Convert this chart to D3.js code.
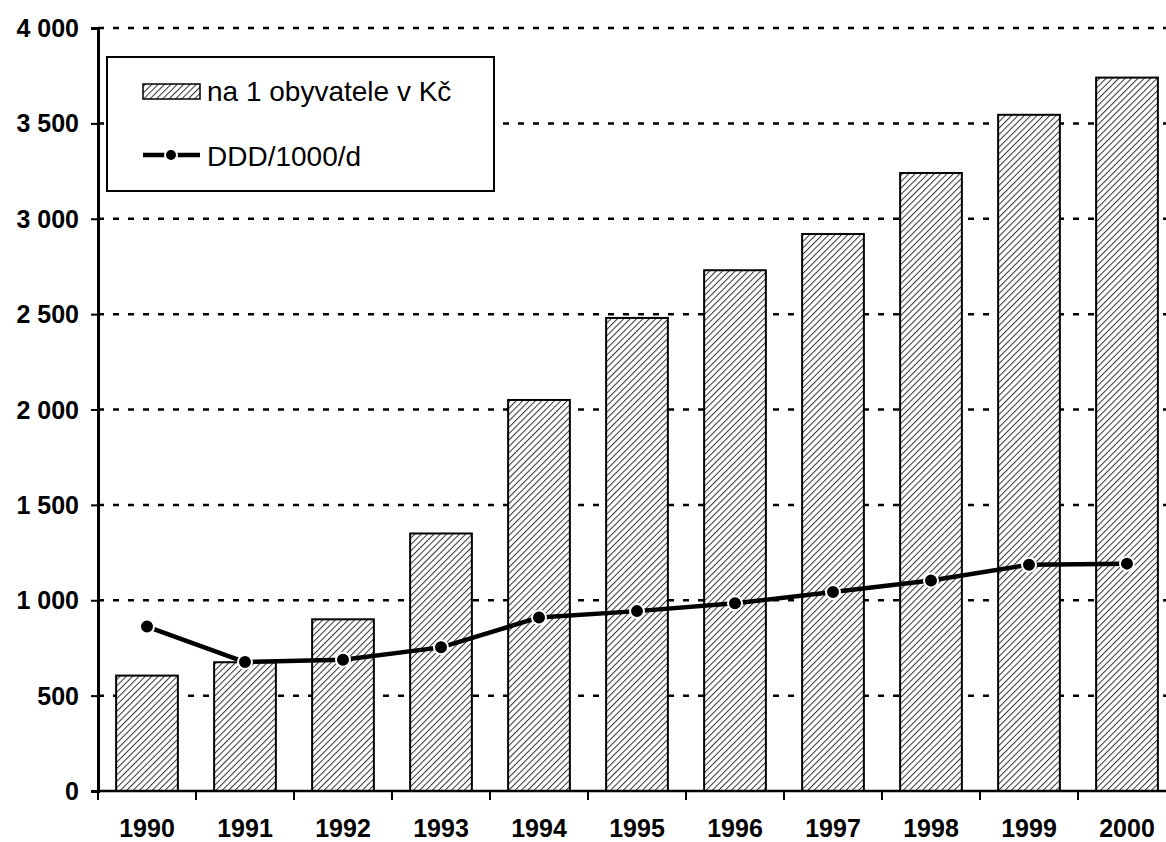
<!DOCTYPE html>
<html lang="cs">
<head>
<meta charset="UTF-8">
<title>Náklady a spotřeba</title>
<style>
  body { margin: 0; background: #fff; }
  svg { display: block; }
</style>
</head>
<body>
<div id="chart"></div>
<script src="https://cdn.jsdelivr.net/npm/d3@7"></script>
<script>
const years = ["1990", "1991", "1992", "1993", "1994", "1995", "1996", "1997", "1998", "1999", "2000"];
const perCapita = [605, 675, 900, 1350, 2050, 2480, 2730, 2920, 3240, 3545, 3740];
const ddd = [862, 676, 688, 753, 910, 943, 984, 1043, 1104, 1186, 1192];
const yTicks = [0, 500, 1000, 1500, 2000, 2500, 3000, 3500, 4000];
const legendLabels = ["na 1 obyvatele v Kč", "DDD/1000/d"];

const W = 1166, H = 842;
const plotLeft = 98, plotTop = 28, plotBottom = 791;
const font = "Liberation Sans, Arial, sans-serif";

const svg = d3.select("#chart").append("svg")
    .attr("width", W).attr("height", H);

const defs = svg.append("defs");
const pat = defs.append("pattern")
    .attr("id", "hatch")
    .attr("patternUnits", "userSpaceOnUse")
    .attr("width", 4.5).attr("height", 4.5)
    .attr("patternTransform", "rotate(45)");
pat.append("rect").attr("width", 4.5).attr("height", 4.5).attr("fill", "#fff");
pat.append("line")
    .attr("x1", 0).attr("y1", 0).attr("x2", 0).attr("y2", 4.5)
    .attr("stroke", "#333").attr("stroke-width", 2);

const x = d3.scaleBand().domain(years).range([plotLeft, plotLeft + 98 * 11]).paddingInner(0.37).paddingOuter(0.185);
const y = d3.scaleLinear().domain([0, 4000]).range([plotBottom, plotTop]);

// gridlines
svg.append("g").selectAll("line")
    .data(yTicks.filter(d => d > 0))
    .join("line")
    .attr("x1", plotLeft).attr("x2", W)
    .attr("y1", d => y(d)).attr("y2", d => y(d))
    .attr("stroke", "#000").attr("stroke-width", 2.5)
    .attr("stroke-dasharray", "6,9");

// bars
svg.append("g").selectAll("rect")
    .data(perCapita)
    .join("rect")
    .attr("x", (d, i) => x(years[i]))
    .attr("y", d => y(d))
    .attr("width", x.bandwidth())
    .attr("height", d => plotBottom - y(d))
    .attr("fill", "url(#hatch)")
    .attr("stroke", "#000").attr("stroke-width", 2);

// y axis
const yAxis = svg.append("g")
    .attr("transform", `translate(${plotLeft},0)`)
    .call(d3.axisLeft(y).tickValues(yTicks).tickSize(7).tickPadding(12)
        .tickFormat(d => d3.format(",")(d).replace(",", " ")));
yAxis.select(".domain").attr("stroke-width", 3);
yAxis.selectAll(".tick line").attr("stroke-width", 2);
yAxis.selectAll("text")
    .attr("font-family", font)
    .attr("font-weight", "bold").attr("font-size", 25).attr("fill", "#000")
    .attr("dy", "0.34em");

// x axis
const xb = d3.scaleLinear().domain([0, 11]).range([plotLeft, plotLeft + 98 * 11]);
const xAxis = svg.append("g").attr("transform", `translate(0,${plotBottom})`);
xAxis.append("line")
    .attr("x1", plotLeft).attr("x2", W)
    .attr("stroke", "#000").attr("stroke-width", 2.5);
xAxis.selectAll(".tk")
    .data(d3.range(0, 12))
    .join("line")
    .attr("x1", d => xb(d)).attr("x2", d => xb(d))
    .attr("y1", 0).attr("y2", 9)
    .attr("stroke", "#000").attr("stroke-width", 2);
xAxis.selectAll("text")
    .data(years)
    .join("text")
    .attr("x", d => x(d) + x.bandwidth() / 2)
    .attr("y", 46)
    .attr("text-anchor", "middle")
    .attr("font-family", font)
    .attr("font-weight", "bold").attr("font-size", 25)
    .text(d => d);

// line series
const cx = (d, i) => x(years[i]) + x.bandwidth() / 2;
svg.append("path")
    .datum(ddd)
    .attr("d", d3.line().x(cx).y(d => y(d)))
    .attr("fill", "none")
    .attr("stroke", "#000").attr("stroke-width", 4.5)
    .attr("stroke-linejoin", "round");
svg.append("g").selectAll("circle")
    .data(ddd)
    .join("circle")
    .attr("cx", cx).attr("cy", d => y(d))
    .attr("r", 7)
    .attr("fill", "#000")
    .attr("stroke", "#fff").attr("stroke-width", 2);

// legend
const lg = svg.append("g");
lg.append("rect")
    .attr("x", 107).attr("y", 57).attr("width", 387).attr("height", 134)
    .attr("fill", "#fff").attr("stroke", "#000").attr("stroke-width", 2);
lg.append("rect")
    .attr("x", 143).attr("y", 84).attr("width", 57).attr("height", 15)
    .attr("fill", "url(#hatch)").attr("stroke", "#000").attr("stroke-width", 1.5);
lg.append("line")
    .attr("x1", 143).attr("x2", 200).attr("y1", 155).attr("y2", 155)
    .attr("stroke", "#000").attr("stroke-width", 4.5);
lg.append("circle")
    .attr("cx", 171).attr("cy", 155).attr("r", 6)
    .attr("fill", "#000").attr("stroke", "#fff").attr("stroke-width", 2);
lg.selectAll("text")
    .data(legendLabels)
    .join("text")
    .attr("x", 207)
    .attr("y", (d, i) => 101 + i * 65)
    .attr("font-family", font)
    .attr("font-size", 28)
    .text(d => d);
</script>
</body>
</html>
